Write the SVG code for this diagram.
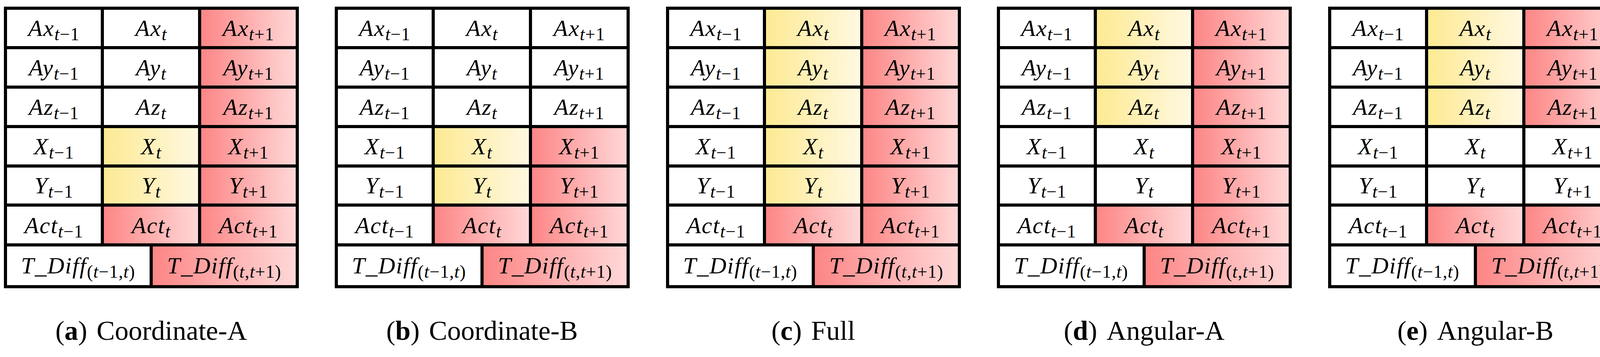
<svg xmlns="http://www.w3.org/2000/svg" width="4165" height="914" viewBox="0 0 4165 914">
<style>
text{font-family:"Liberation Serif","Times New Roman",serif;fill:#000}
.m{font-size:60px;font-style:italic;text-anchor:middle;letter-spacing:2px}
.s{font-size:46px;letter-spacing:1px}
.u{font-style:normal}
.cap{font-size:70px;text-anchor:middle}
.b{font-weight:bold}
.g{stroke:#000;stroke-width:8;fill:none}
.R{fill:url(#red)}
.Y{fill:url(#yel)}
</style>
<defs>
<linearGradient id="red" x1="0" y1="0" x2="1" y2="0"><stop offset="0" stop-color="#fd8585"/><stop offset="1" stop-color="#ffd8d8"/></linearGradient>
<linearGradient id="yel" x1="0" y1="0" x2="1" y2="0"><stop offset="0" stop-color="#fdea92"/><stop offset="1" stop-color="#fff8e2"/></linearGradient>
<g id="grid">
<rect x="0" y="21" width="747" height="713" class="g"/>
<path class="g" d="M0 122H747M0 223H747M0 324H747M0 425H747M0 525H747M0 627H747M248 21V627M497 21V627M373 627V734"/>
</g>
<g id="txt">
<text class="m" x="124" y="92">Ax<tspan class="s" dy="11">t<tspan class="u">−1</tspan></tspan></text>
<text class="m" x="373" y="92">Ax<tspan class="s" dy="11">t</tspan></text>
<text class="m" x="622" y="92">Ax<tspan class="s" dy="11">t<tspan class="u">+1</tspan></tspan></text>
<text class="m" x="124" y="193">Ay<tspan class="s" dy="11">t<tspan class="u">−1</tspan></tspan></text>
<text class="m" x="373" y="193">Ay<tspan class="s" dy="11">t</tspan></text>
<text class="m" x="622" y="193">Ay<tspan class="s" dy="11">t<tspan class="u">+1</tspan></tspan></text>
<text class="m" x="124" y="294">Az<tspan class="s" dy="11">t<tspan class="u">−1</tspan></tspan></text>
<text class="m" x="373" y="294">Az<tspan class="s" dy="11">t</tspan></text>
<text class="m" x="622" y="294">Az<tspan class="s" dy="11">t<tspan class="u">+1</tspan></tspan></text>
<text class="m" x="124" y="395">X<tspan class="s" dy="11">t<tspan class="u">−1</tspan></tspan></text>
<text class="m" x="373" y="395">X<tspan class="s" dy="11">t</tspan></text>
<text class="m" x="622" y="395">X<tspan class="s" dy="11">t<tspan class="u">+1</tspan></tspan></text>
<text class="m" x="124" y="495">Y<tspan class="s" dy="11">t<tspan class="u">−1</tspan></tspan></text>
<text class="m" x="373" y="495">Y<tspan class="s" dy="11">t</tspan></text>
<text class="m" x="622" y="495">Y<tspan class="s" dy="11">t<tspan class="u">+1</tspan></tspan></text>
<text class="m" x="124" y="597">Act<tspan class="s" dy="11">t<tspan class="u">−1</tspan></tspan></text>
<text class="m" x="373" y="597">Act<tspan class="s" dy="11">t</tspan></text>
<text class="m" x="622" y="597">Act<tspan class="s" dy="11">t<tspan class="u">+1</tspan></tspan></text>
<text class="m" x="186" y="700">T_Diff<tspan class="s" dy="11"><tspan class="u">(</tspan>t<tspan class="u">−1,</tspan>t<tspan class="u">)</tspan></tspan></text>
<text class="m" x="560" y="700">T_Diff<tspan class="s" dy="11"><tspan class="u">(</tspan>t<tspan class="u">,</tspan>t<tspan class="u">+1)</tspan></tspan></text>
</g>
</defs>
<g id="table-a" transform="translate(14,0)">
<rect class="R" x="497" y="21" width="250" height="606"/>
<rect class="Y" x="248" y="324" width="249" height="201"/>
<rect class="R" x="248" y="525" width="249" height="102"/>
<rect class="R" x="373" y="627" width="374" height="107"/>
<use href="#grid"/><use href="#txt"/>
<text class="cap" x="373" y="870">(<tspan class="b">a</tspan>)<tspan dx="24">Coordinate-A</tspan></text>
</g>
<g id="table-b" transform="translate(861,0)">
<rect class="Y" x="248" y="324" width="249" height="201"/>
<rect class="R" x="497" y="324" width="250" height="303"/>
<rect class="R" x="248" y="525" width="249" height="102"/>
<rect class="R" x="373" y="627" width="374" height="107"/>
<use href="#grid"/><use href="#txt"/>
<text class="cap" x="373" y="870">(<tspan class="b">b</tspan>)<tspan dx="24">Coordinate-B</tspan></text>
</g>
<g id="table-c" transform="translate(1709,0)">
<rect class="Y" x="248" y="21" width="249" height="504"/>
<rect class="R" x="497" y="21" width="250" height="606"/>
<rect class="R" x="248" y="525" width="249" height="102"/>
<rect class="R" x="373" y="627" width="374" height="107"/>
<use href="#grid"/><use href="#txt"/>
<text class="cap" x="373" y="870">(<tspan class="b">c</tspan>)<tspan dx="24">Full</tspan></text>
</g>
<g id="table-d" transform="translate(2556,0)">
<rect class="Y" x="248" y="21" width="249" height="303"/>
<rect class="R" x="497" y="21" width="250" height="606"/>
<rect class="R" x="248" y="525" width="249" height="102"/>
<rect class="R" x="373" y="627" width="374" height="107"/>
<use href="#grid"/><use href="#txt"/>
<text class="cap" x="373" y="870">(<tspan class="b">d</tspan>)<tspan dx="24">Angular-A</tspan></text>
</g>
<g id="table-e" transform="translate(3404,0)">
<rect class="Y" x="248" y="21" width="249" height="303"/>
<rect class="R" x="497" y="21" width="250" height="303"/>
<rect class="R" x="248" y="525" width="249" height="102"/>
<rect class="R" x="497" y="525" width="250" height="102"/>
<rect class="R" x="373" y="627" width="374" height="107"/>
<use href="#grid"/><use href="#txt"/>
<text class="cap" x="373" y="870">(<tspan class="b">e</tspan>)<tspan dx="24">Angular-B</tspan></text>
</g>
</svg>
